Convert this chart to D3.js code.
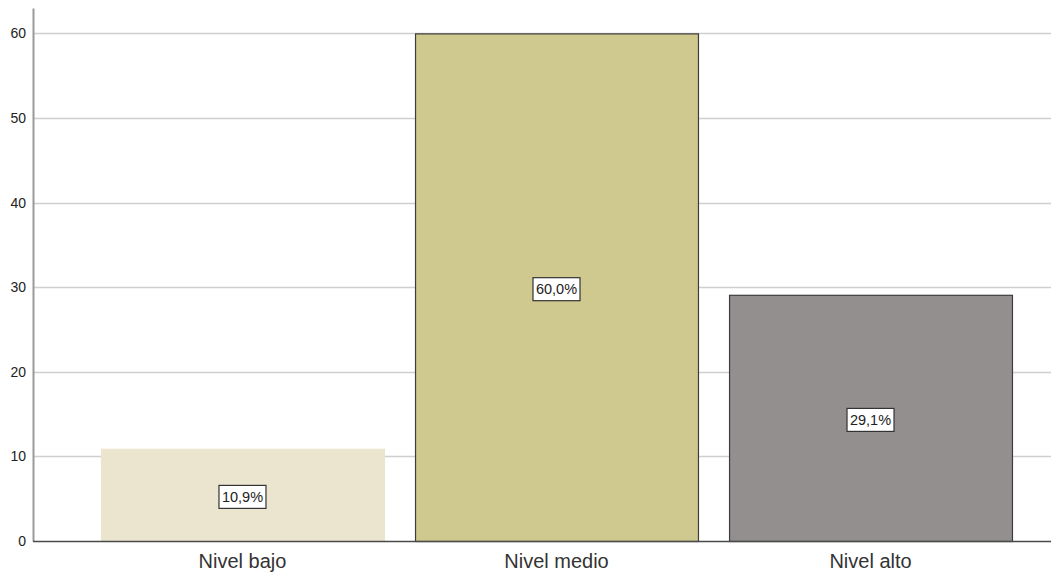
<!DOCTYPE html>
<html>
<head>
<meta charset="utf-8">
<script src="https://cdn.jsdelivr.net/npm/d3@7"></script>
<style>
  body { margin: 0; background: #fff; }
  svg { display: block; }
</style>
</head>
<body>
<div id="chart"></div>
<script>
const categories = ['Nivel bajo', 'Nivel medio', 'Nivel alto']
const values = [10.9, 60.0, 29.1]
const labels = ['10,9%', '60,0%', '29,1%']
const yTicks = [0, 10, 20, 30, 40, 50, 60]
const fills = ['#ebe5d0', '#cfc98f', '#938f8e']
const strokes = ['#ebe5d0', '#3c3c3c', '#3c3c3c']

const width = 1051
const height = 576
const font = 'Liberation Sans, Arial, sans-serif'

const svg = d3.select('#chart')
  .append('svg')
  .attr('width', width)
  .attr('height', height)

const x0 = 33

// the original plot runs a bit past the right edge of the window
let x = d3.scaleBand()
  .domain(categories)
  .range([x0, 1080])
  .paddingInner(0.099)
  .paddingOuter(0.2166)

let y = d3.scaleLinear()
  .domain([0, 63])
  .range([541, 8])

// grid lines
svg.append('g')
  .selectAll('line')
  .data(yTicks.filter(d => d > 0))
  .enter().append('line')
  .attr('x1', x0)
  .attr('x2', width)
  .attr('y1', d => Math.round(y(d)) + 0.5)
  .attr('y2', d => Math.round(y(d)) + 0.5)
  .attr('stroke', '#cfcfcf')
  .attr('stroke-width', 1.5)

// bars
svg.append('g')
  .selectAll('rect')
  .data(values)
  .enter().append('rect')
  .attr('x', (d, i) => x(categories[i]) + 0.5)
  .attr('y', d => y(d) + 0.5)
  .attr('width', x.bandwidth())
  .attr('height', d => y(0) - y(d))
  .attr('fill', (d, i) => fills[i])
  .attr('stroke', (d, i) => strokes[i])
  .attr('stroke-width', 1.2)

// value labels
let lab = svg.append('g')
  .selectAll('g')
  .data(values)
  .enter().append('g')
  .attr('transform', (d, i) => 'translate(' + (x(categories[i]) + x.bandwidth() / 2) + ',' + (y(d / 2) + 2) + ')')

lab.append('rect')
  .attr('x', -23.5)
  .attr('y', -11.5)
  .attr('width', 47)
  .attr('height', 23)
  .attr('fill', '#fff')
  .attr('stroke', '#333')
  .attr('stroke-width', 1.2)

lab.append('text')
  .attr('text-anchor', 'middle')
  .attr('y', 5)
  .attr('font-family', font)
  .attr('font-size', 14.5)
  .attr('fill', '#222')
  .text((d, i) => labels[i])

// y axis
let yAxis = d3.axisLeft(y)
  .tickValues(yTicks)
  .tickSize(0)
  .tickPadding(7)

let gy = svg.append('g')
  .attr('transform', 'translate(' + x0 + ',0)')
  .call(yAxis)

gy.select('.domain')
  .attr('stroke', '#9a9a9a')
  .attr('stroke-width', 2)

gy.selectAll('text')
  .attr('font-family', font)
  .attr('font-size', 14)
  .attr('fill', '#222')

// baseline
svg.append('line')
  .attr('x1', x0)
  .attr('x2', width)
  .attr('y1', y(0) + 0.5)
  .attr('y2', y(0) + 0.5)
  .attr('stroke', '#4a4a4a')
  .attr('stroke-width', 1.5)

// category labels
svg.append('g')
  .selectAll('text')
  .data(categories)
  .enter().append('text')
  .attr('x', d => x(d) + x.bandwidth() / 2)
  .attr('y', 568)
  .attr('text-anchor', 'middle')
  .attr('font-family', font)
  .attr('font-size', 20)
  .attr('fill', '#333')
  .text(d => d)
</script>
</body>
</html>
